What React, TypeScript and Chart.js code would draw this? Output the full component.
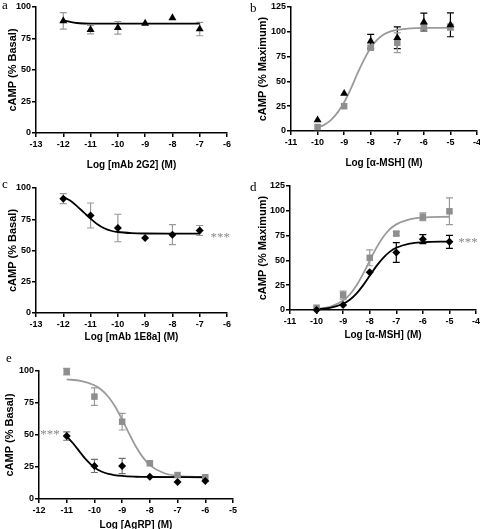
import React, { useEffect, useRef } from "react";
import { Chart, registerables } from "chart.js";

Chart.register(...registerables);

// ---------- Panel a : mAb 2G2 ----------
const aLogDose = [-12, -11, -10, -9, -8, -7];
const a2G2 = [89, 82, 83.5, 87, 91.3, 82.5];
const a2G2Err = [6.5, 3.3, 5, 0, 0, 5.3];
const aFitX = [-12, -11.75, -11.5, -11.25, -11, -7];
const aFitY = [89.4, 88.2, 87.3, 86.9, 86.8, 86.8];

// ---------- Panel b : alpha-MSH ----------
const bLogDose = [-10, -9, -8, -7, -6, -5];
const bTriangle = [11.1, 37.8, 90.5, 94, 109.8, 107];
const bTriangleErr = [0, 0, 7, 11, 9, 12];
const bSquare = [4, 25, 84, 89, 105, 104.7];
const bSquareErr = [0, 0, 2, 10, 3, 3];
const bFitX = [-10, -9.75, -9.5, -9.25, -9, -8.75, -8.5, -8.25, -8, -7.75, -7.5, -7.25, -7, -6.5, -6, -5];
const bFitY = [3.5, 6.2, 11, 18.5, 29, 42.5, 58, 72, 84, 92, 97.5, 100.5, 102, 103.5, 104, 104];

// ---------- Panel c : mAb 1E8a ----------
const cLogDose = [-12, -11, -10, -9, -8, -7];
const c1E8a = [91.5, 78, 68, 60, 62.7, 66];
const c1E8aErr = [4, 10, 11, 0, 8, 4];
const cFitX = [-12, -11.75, -11.5, -11.25, -11, -10.75, -10.5, -10.25, -10, -9.5, -9, -8, -7];
const cFitY = [93, 90, 85.5, 80.5, 75.5, 71, 67.8, 65.8, 64.8, 63.9, 63.6, 63.5, 63.5];

// ---------- Panel d : alpha-MSH +/- mAb ----------
const dLogDose = [-10, -9, -8, -7, -6, -5];
const dSquare = [2.3, 15, 52.6, 77, 94, 99.5];
const dSquareErr = [0, 4, 8, 2, 4, 13.5];
const dDiamond = [0, 5, 38, 58, 71.4, 68.7];
const dDiamondErr = [0, 0, 0, 10, 4.5, 6.5];
const dFitX = [-10, -9.5, -9, -8.75, -8.5, -8.25, -8, -7.75, -7.5, -7.25, -7, -6.5, -6, -5];
const dSquareFitY = [1, 3.2, 9.5, 15.6, 24.6, 36.4, 49.7, 62.6, 73.3, 81.2, 86.3, 91.4, 93.2, 94];
const dDiamondFitY = [0.7, 2.1, 6.3, 10.4, 16.6, 24.8, 34.5, 44.2, 52.4, 58.6, 62.7, 66.9, 68.3, 69];

// ---------- Panel e : AgRP ----------
const eLogDose = [-11, -10, -9, -8, -7, -6];
const eSquare = [99.5, 80, 60.4, 27.9, 18.7, 17];
const eSquareErr = [2.5, 6.8, 6.5, 0, 0, 0];
const eDiamond = [49.2, 25.8, 25.8, 17.4, 13.3, 14];
const eDiamondErr = [3.3, 5.1, 5.9, 0, 0, 0];
const eSquareFitX = [-11, -10.5, -10, -9.75, -9.5, -9.25, -9, -8.75, -8.5, -8.25, -8, -7.5, -7, -6.5, -6];
const eSquareFitY = [93.5, 92.3, 88.9, 85.4, 79.9, 72.1, 62, 51.1, 40.8, 32.5, 26.5, 20.3, 18.1, 17.4, 17.1];
const eDiamondFitX = [-11, -10.75, -10.5, -10.25, -10, -9.75, -9.5, -9, -8.5, -8, -6];
const eDiamondFitY = [49, 43, 36, 29.5, 24.5, 21.5, 19.7, 18, 17.4, 17.2, 17];

const SANS = 'Arial, "Liberation Sans", Helvetica, sans-serif';
const SERIF = '"Times New Roman", "Liberation Serif", Times, serif';
const GREY = "#8e8e8e";
const GREY_LINE = "#9a9a9a";
const BLACK = "#000000";

type Series = {
  x: number[];
  y: number[];
  err: number[];
  color: string;
  errColor: string;
  style: string;
  r: number;
};
type Curve = { x: number[]; y: number[]; color: string; width: number };
type Panel = {
  letter: string;
  letterX: number;
  letterBase: number;
  L: number;
  R: number;
  T: number;
  B: number;
  xMin: number;
  xMax: number;
  yMax: number;
  xTitle: string;
  yTitle: string;
  yTitleX: number;
  xTitleY: number;
  series: Series[];
  curves: Curve[];
  stars?: { x: number; y: number };
};

const panels: Panel[] = [
  {
    letter: "a", letterX: 2, letterBase: 8.5,
    L: 36, R: 227, T: 7, B: 133, xMin: -13, xMax: -6, yMax: 100,
    xTitle: "Log [mAb 2G2] (M)", yTitle: "cAMP (% Basal)", yTitleX: 13, xTitleY: 165,
    series: [{ x: aLogDose, y: a2G2, err: a2G2Err, color: BLACK, errColor: GREY_LINE, style: "triangle", r: 4.6 }],
    curves: [{ x: aFitX, y: aFitY, color: BLACK, width: 1.8 }],
  },
  {
    letter: "b", letterX: 250, letterBase: 11.7,
    L: 291, R: 477, T: 7, B: 131, xMin: -11, xMax: -4, yMax: 125,
    xTitle: "Log [\u03b1-MSH] (M)", yTitle: "cAMP (% Maximum)", yTitleX: 263, xTitleY: 163,
    series: [
      { x: bLogDose, y: bTriangle, err: bTriangleErr, color: BLACK, errColor: BLACK, style: "triangle", r: 4.6 },
      { x: bLogDose, y: bSquare, err: bSquareErr, color: GREY, errColor: GREY_LINE, style: "rect", r: 4.6 },
    ],
    curves: [{ x: bFitX, y: bFitY, color: GREY_LINE, width: 1.8 }],
  },
  {
    letter: "c", letterX: 2, letterBase: 188.3,
    L: 36, R: 227, T: 188, B: 313, xMin: -13, xMax: -6, yMax: 100,
    xTitle: "Log [mAb 1E8a] (M)", yTitle: "cAMP (% Basal)", yTitleX: 13, xTitleY: 337,
    series: [{ x: cLogDose, y: c1E8a, err: c1E8aErr, color: BLACK, errColor: GREY_LINE, style: "rectRot", r: 4 }],
    curves: [{ x: cFitX, y: cFitY, color: BLACK, width: 1.8 }],
    stars: { x: -6.25, y: 61.6 },
  },
  {
    letter: "d", letterX: 250, letterBase: 190.7,
    L: 290, R: 476, T: 186, B: 310, xMin: -11, xMax: -4, yMax: 125,
    xTitle: "Log [\u03b1-MSH] (M)", yTitle: "cAMP (% Maximum)", yTitleX: 263, xTitleY: 335,
    series: [
      { x: dLogDose, y: dDiamond, err: dDiamondErr, color: BLACK, errColor: BLACK, style: "rectRot", r: 4 },
      { x: dLogDose, y: dSquare, err: dSquareErr, color: GREY, errColor: GREY_LINE, style: "rect", r: 4.6 },
    ],
    curves: [
      { x: dFitX, y: dDiamondFitY, color: BLACK, width: 1.8 },
      { x: dFitX, y: dSquareFitY, color: GREY_LINE, width: 1.8 },
    ],
    stars: { x: -4.3, y: 69.5 },
  },
  {
    letter: "e", letterX: 6, letterBase: 361.7,
    L: 39, R: 233, T: 371, B: 499, xMin: -12, xMax: -5, yMax: 100,
    xTitle: "Log [AgRP] (M)", yTitle: "cAMP (% Basal)", yTitleX: 10, xTitleY: 525,
    series: [
      { x: eLogDose, y: eDiamond, err: eDiamondErr, color: BLACK, errColor: "#707070", style: "rectRot", r: 4 },
      { x: eLogDose, y: eSquare, err: eSquareErr, color: GREY, errColor: GREY_LINE, style: "rect", r: 4.6 },
    ],
    curves: [
      { x: eDiamondFitX, y: eDiamondFitY, color: BLACK, width: 1.8 },
      { x: eSquareFitX, y: eSquareFitY, color: GREY_LINE, width: 1.8 },
    ],
    stars: { x: -11.6, y: 51.8 },
  },
];

function PanelChart({ p }: { p: Panel }) {
  const ref = useRef<HTMLCanvasElement | null>(null);
  const cl = Math.floor(p.yTitleX - 8);
  const ct = p.T - 8;
  const cr = p.R + 10;
  const cb = Math.ceil(p.xTitleY + 8);
  const w = cr - cl;
  const h = cb - ct;

  useEffect(() => {
    if (!ref.current) return;
    const datasets: any[] = [];
    p.series.forEach((s) => {
      datasets.push({
        data: s.x.map((x, i) => ({ x, y: s.y[i] })),
        showLine: false,
        pointStyle: s.style,
        pointRadius: s.r,
        pointBackgroundColor: s.color,
        pointBorderColor: s.color,
        pointBorderWidth: 0,
        clip: false,
        errorBars: s.err,
        errorColor: s.errColor,
      });
    });
    p.curves.forEach((c) => {
      datasets.push({
        data: c.x.map((x, i) => ({ x, y: c.y[i] })),
        showLine: true,
        pointRadius: 0,
        borderColor: c.color,
        borderWidth: c.width,
        cubicInterpolationMode: "monotone",
        clip: false,
      });
    });

    const errorPlugin = {
      id: "errorBars",
      beforeDatasetsDraw(chart: any) {
        const ctx = chart.ctx;
        const xs = chart.scales.x;
        const ys = chart.scales.y;
        ctx.save();
        chart.data.datasets.forEach((ds: any) => {
          if (!ds.errorBars) return;
          ctx.strokeStyle = ds.errorColor;
          ctx.lineWidth = 1.2;
          ds.data.forEach((pt: any, i: number) => {
            const e = ds.errorBars[i];
            if (!e) return;
            const px = xs.getPixelForValue(pt.x);
            const p1 = ys.getPixelForValue(pt.y + e);
            const p2 = ys.getPixelForValue(pt.y - e);
            ctx.beginPath();
            ctx.moveTo(px, p1);
            ctx.lineTo(px, p2);
            ctx.moveTo(px - 3.5, p1);
            ctx.lineTo(px + 3.5, p1);
            ctx.moveTo(px - 3.5, p2);
            ctx.lineTo(px + 3.5, p2);
            ctx.stroke();
          });
        });
        ctx.restore();
      },
    };

    const starsPlugin = {
      id: "stars",
      afterDatasetsDraw(chart: any) {
        if (!p.stars) return;
        const ctx = chart.ctx;
        const px = chart.scales.x.getPixelForValue(p.stars.x);
        const py = chart.scales.y.getPixelForValue(p.stars.y);
        ctx.save();
        ctx.fillStyle = "#8a8a8a";
        ctx.font = `13px ${SERIF}`;
        ctx.textAlign = "center";
        ctx.textBaseline = "middle";
        ctx.fillText("***", px, py + 2);
        ctx.restore();
      },
    };

    const tickFont = { family: SANS, size: 9, weight: "bold" as const };
    const gridOpts = {
      display: true,
      drawOnChartArea: false,
      drawTicks: true,
      tickLength: 4,
      color: BLACK,
      lineWidth: 1.5,
    };
    const borderOpts = { display: true, color: BLACK, width: 1.5 };

    const chart = new Chart(ref.current, {
      type: "scatter",
      data: { datasets },
      options: {
        responsive: false,
        animation: false,
        devicePixelRatio: 1,
        layout: { padding: { left: 0, top: 8, right: 10, bottom: 0 } },
        plugins: { legend: { display: false }, tooltip: { enabled: false } },
        scales: {
          x: {
            type: "linear",
            min: p.xMin,
            max: p.xMax,
            afterFit: (s: any) => {
              s.height = cb - p.B;
            },
            ticks: {
              stepSize: 1,
              autoSkip: false,
              maxRotation: 0,
              padding: 2,
              color: BLACK,
              font: tickFont,
              callback: (v: any) => String(v),
            },
            grid: gridOpts,
            border: borderOpts,
            title: {
              display: true,
              text: p.xTitle,
              color: BLACK,
              font: { family: SANS, size: 10, weight: "bold" },
              padding: { top: 0, bottom: 2 },
            },
          },
          y: {
            type: "linear",
            min: 0,
            max: p.yMax,
            afterFit: (s: any) => {
              s.width = p.L - cl;
            },
            ticks: {
              stepSize: 25,
              autoSkip: false,
              padding: 1,
              color: BLACK,
              font: tickFont,
              callback: (v: any) => String(v),
            },
            grid: gridOpts,
            border: borderOpts,
            title: {
              display: true,
              text: p.yTitle,
              color: BLACK,
              font: { family: SANS, size: 11, weight: "bold" },
              padding: { top: p.yTitleX - cl - 6.6, bottom: 0 },
            },
          },
        },
      } as any,
      plugins: [errorPlugin, starsPlugin],
    });
    return () => chart.destroy();
  }, []);

  return (
    <canvas
      ref={ref}
      width={w}
      height={h}
      style={{ position: "absolute", left: cl, top: ct, width: w, height: h }}
    />
  );
}

export default function App() {
  return (
    <div
      style={{
        position: "fixed",
        left: 0,
        top: 0,
        width: 480,
        height: 529,
        overflow: "hidden",
        background: "#ffffff",
      }}
    >
      {panels.map((p) => (
        <PanelChart key={p.letter} p={p} />
      ))}
      {panels.map((p) => (
        <div
          key={"l" + p.letter}
          style={{
            position: "absolute",
            left: p.letterX,
            top: p.letterBase - 10.9,
            fontFamily: SERIF,
            fontSize: 13,
            lineHeight: "13px",
            color: "#000",
          }}
        >
          {p.letter}
        </div>
      ))}
    </div>
  );
}
